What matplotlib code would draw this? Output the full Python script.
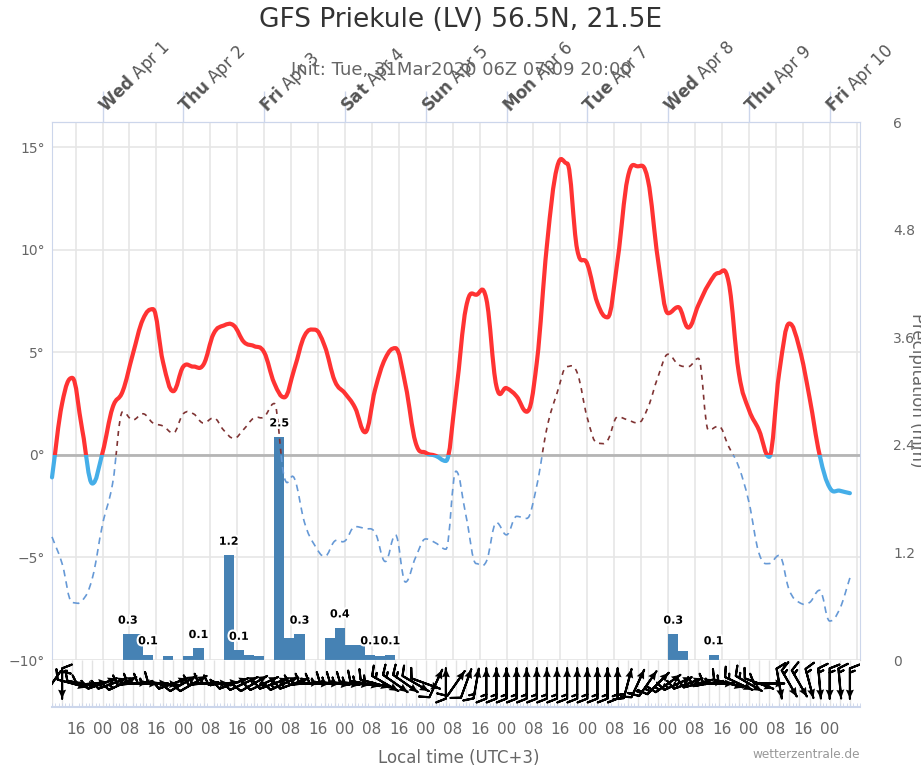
import numpy as np
import matplotlib
matplotlib.use("Agg")
import matplotlib.pyplot as plt
from matplotlib.path import Path
from matplotlib.patches import PathPatch, Rectangle
import matplotlib.patheffects as pe

# hours after Wed Apr 1 00:00 local time, 3-hourly from Mar 31 09:00
hours = np.arange(-15, 225, 3)

temp = [-1.1, 2.5, 3.75, 1.2, -1.4, 0.1, 2.3, 3.1, 4.9, 6.6,
        7.1, 4.5, 3.1, 4.3, 4.3, 4.4, 5.9, 6.3, 6.3, 5.5,
        5.3, 5.0, 3.5, 2.8, 4.2, 5.8, 6.1, 5.3, 3.6, 3.0,
        2.3, 1.1, 3.2, 4.7, 5.2, 3.4, 0.6, 0.1, -0.05, -0.3,
        3.0, 7.2, 7.8, 7.6, 3.35, 3.25, 2.85, 2.1, 4.5, 10.2,
        14.0, 14.2, 10.0, 9.3, 7.4, 6.7, 9.5, 13.5, 14.06, 13.4,
        9.5, 6.9, 7.2, 6.2, 7.3, 8.3, 8.86, 8.4, 4.0, 2.2,
        1.2, -0.1, 4.0, 6.4, 5.2, 2.8, 0.0, -1.6, -1.75, -1.87]

dewp = [-4.0, -5.3, -7.2, -7.1, -6.0, -3.4, -1.4, 2.1, 1.7, 2.0,
        1.55, 1.4, 1.06, 2.0, 2.0, 1.55, 1.8, 1.2, 0.8, 1.25,
        1.8, 1.85, 2.5, -1.1, -1.15, -3.3, -4.4, -4.95, -4.2, -4.2,
        -3.5, -3.6, -3.8, -5.2, -3.9, -6.2, -5.0, -4.1, -4.3, -4.6,
        -0.8, -3.0, -5.3, -5.2, -3.3, -3.9, -3.0, -3.1, -1.5, 1.3,
        3.0, 4.3, 4.0, 1.8, 0.57, 0.7, 1.85, 1.7, 1.55, 2.3,
        3.8, 4.9, 4.4, 4.3, 4.7, 1.2, 1.4, 0.4, -0.6, -2.3,
        -4.8, -5.3, -4.9, -6.6, -7.2, -7.2, -6.6, -8.1, -7.5, -6.0]

precip = [0, 0, 0, 0, 0, 0, 0, 0.29, 0.29, 0.06,
          0, 0.04, 0, 0.04, 0.13, 0, 0, 1.17, 0.11, 0.055,
          0.04, 0, 2.49, 0.24, 0.29, 0, 0, 0.24, 0.36, 0.17,
          0.17, 0.06, 0.04, 0.06, 0, 0, 0, 0, 0, 0,
          0, 0, 0, 0, 0, 0, 0, 0, 0, 0,
          0, 0, 0, 0, 0, 0, 0, 0, 0, 0,
          0, 0.29, 0.1, 0, 0, 0.06, 0, 0, 0, 0,
          0, 0, 0, 0, 0, 0, 0, 0, 0, 0]
labeled = [7, 9, 14, 17, 18, 22, 24, 28, 31, 33, 61, 65]

wind_dir = [35, 0, 285, 280, 265, 250, 250, 245, 265, 270,
            270, 275, 250, 240, 240, 265, 270, 265, 250, 245,
            240, 245, 250, 245, 250, 265, 270, 270, 275, 275,
            275, 280, 285, 300, 305, 305, 300, 290, 205, 180,
            215, 200, 190, 180, 180, 180, 180, 180, 180, 180,
            180, 180, 180, 180, 180, 180, 180, 195, 205, 215,
            225, 235, 245, 250, 255, 260, 270, 285, 295, 300,
            290, 270, 350, 330, 330, 345, 355, 0, 355, 0]
wind_spd = [12, 14, 10, 10, 12, 12, 14, 14, 14, 14,
            14, 12, 12, 12, 12, 14, 14, 14, 12, 12,
            12, 12, 14, 14, 14, 14, 14, 14, 14, 14,
            15, 15, 15, 15, 15, 15, 12, 10, 10, 10,
            12, 12, 14, 15, 15, 15, 15, 15, 15, 15,
            15, 15, 15, 15, 15, 15, 15, 15, 15, 15,
            15, 15, 15, 15, 15, 15, 15, 15, 15, 15,
            12, 12, 12, 14, 14, 15, 15, 15, 15, 15]

day_hours = np.arange(0, 217, 24)
weekdays = ["Wed", "Thu", "Fri", "Sat", "Sun", "Mon", "Tue", "Wed", "Thu", "Fri"]
dates = ["Apr 1", "Apr 2", "Apr 3", "Apr 4", "Apr 5", "Apr 6", "Apr 7", "Apr 8", "Apr 9", "Apr 10"]


def smooth_path(x, y):
    # spline through the points, flat at local extremes (like the web chart)
    x = np.asarray(x, float)
    y = np.asarray(y, float)
    n = len(x)
    m = np.zeros(n)
    for i in range(n):
        a, b = max(i - 1, 0), min(i + 1, n - 1)
        m[i] = (y[b] - y[a]) / (x[b] - x[a])
        if 0 < i < n - 1 and (y[i] - y[a]) * (y[i] - y[b]) > 0:
            m[i] = 0
    verts = [(x[0], y[0])]
    codes = [Path.MOVETO]
    for i in range(n - 1):
        h = 0.4 * (x[i + 1] - x[i])
        verts += [(x[i] + h, y[i] + m[i] * h), (x[i + 1] - h, y[i + 1] - m[i + 1] * h),
                  (x[i + 1], y[i + 1])]
        codes += [Path.CURVE4] * 3
    return Path(verts, codes)


fig = plt.figure(figsize=(9.21, 7.68), dpi=100)
W, H = 921, 768
ax = fig.add_axes([52 / W, 1 - 660 / H, 808 / W, 538 / H])
axw = fig.add_axes([52 / W, 1 - 707 / H, 808 / W, 47 / H])
ax2 = ax.twinx()

ax.set_xlim(-15, 225)
ax.set_ylim(-10, 16.22)
ax2.set_ylim(0, 6)
axw.set_xlim(-15, 225)
axw.set_ylim(0, 1)

# grid
yt = [-10, -5, 0, 5, 10, 15]
ax.set_yticks(yt, labels=[f"{v}°".replace("-", "\u2212") for v in yt])
ax.set_xticks(np.arange(-8, 225, 8))
ax.grid(True, color="#e6e6e6", lw=1.2, zorder=0)
ax.set_axisbelow(True)
ax.tick_params(axis="x", length=0, labelbottom=False)
ax.tick_params(axis="y", length=0, pad=5, labelsize=10, labelcolor="#666666")
ax.axhline(0, color="#b5b5b5", lw=2, zorder=1.5)
for s in ["top", "right", "left"]:
    ax.spines[s].set_color("#ccd6eb")
ax.spines["bottom"].set_color("#d0d0d0")

ax2.set_yticks([0, 1.2, 2.4, 3.6, 4.8, 6], labels=["0", "1.2", "2.4", "3.6", "4.8", "6"])
ax2.tick_params(axis="y", length=0, pad=24, labelsize=10, labelcolor="#666666")
for s in ax2.spines.values():
    s.set_visible(False)

# precipitation bars (right scale)
ax.bar(hours, precip, width=3, align="edge", color="#4682b4", linewidth=0,
       transform=ax2.transData, zorder=2)
for i in labeled:
    ax.annotate(f"{precip[i]:.1f}", xy=(hours[i] + 1.5, precip[i]), xycoords=ax2.transData,
                xytext=(0, 6), textcoords="offset points", ha="center", va="bottom",
                fontsize=8, fontweight="bold", color="black", zorder=6,
                path_effects=[pe.withStroke(linewidth=3, foreground="white")])

# dew point
dpath = smooth_path(hours, dewp)
d1 = PathPatch(dpath, fill=False, ec="#7f3333", lw=1.2, linestyle=(0, (3, 3)), zorder=3)
d2 = PathPatch(dpath, fill=False, ec="#6699d6", lw=1.2, linestyle=(0, (4, 3)), zorder=3)
ax.add_patch(d1)
ax.add_patch(d2)
d1.set_clip_path(Rectangle((-100, 0), 500, 100, transform=ax.transData))
d2.set_clip_path(Rectangle((-100, -100), 500, 100, transform=ax.transData))

# temperature
tpath = smooth_path(hours, temp)
t1 = PathPatch(tpath, fill=False, ec="#ff3333", lw=3, zorder=4, joinstyle="round", capstyle="round")
t2 = PathPatch(tpath, fill=False, ec="#45aee8", lw=3, zorder=4, joinstyle="round", capstyle="round")
ax.add_patch(t1)
ax.add_patch(t2)
t1.set_clip_path(Rectangle((-100, 0), 500, 100, transform=ax.transData))
t2.set_clip_path(Rectangle((-100, -100), 500, 100, transform=ax.transData))

# top day axis
sec = ax.secondary_xaxis("top")
sec.set_xticks(day_hours, labels=[""] * len(day_hours))
sec.tick_params(length=22, color="#ccd6eb", width=1)
sec.spines["top"].set_color("#ccd6eb")
for d, wd, dt in zip(day_hours, weekdays, dates):
    ax.annotate(rf"$\mathbf{{{wd}}}$ {dt}", xy=(d, 1), xycoords=("data", "axes fraction"),
                xytext=(2, 7), textcoords="offset points", rotation=45,
                rotation_mode="anchor", ha="left", va="baseline",
                fontsize=12, color="#555555", annotation_clip=False)

# wind strip
rad = np.deg2rad(wind_dir)
spd = np.array(wind_spd, dtype=float)
u = -spd * np.sin(rad)
v = -spd * np.cos(rad)
yw = np.full(len(hours), 0.5)
axw.vlines(hours, 0, 1, color="#e3e3e3", lw=1, zorder=0)
axw.barbs(hours, yw, u, v, length=6.6, pivot="middle", lw=1.5, color="black",
          sizes=dict(height=0.32, spacing=0.14), zorder=3)
axw.quiver(hours, yw, u / spd, v / spd, pivot="middle", angles="uv",
           scale_units="inches", scale=1 / 0.30, units="inches", width=0.016,
           headwidth=5, headlength=5.5, headaxislength=5, color="black", zorder=3)
ticks = np.arange(-8, 217, 8)
axw.set_xticks(ticks, labels=[f"{t % 24:02d}" for t in ticks])
axw.set_xticks(np.arange(-15, 226, 1), minor=True)
axw.tick_params(axis="x", which="major", length=0, pad=11, labelsize=11, labelcolor="#666666")
axw.tick_params(axis="x", which="minor", length=3, direction="in", color="#ccd6eb")
axw.set_yticks([])
for s in ["top", "left", "right"]:
    axw.spines[s].set_visible(False)
axw.spines["bottom"].set_color("#ccd6eb")
axw.spines["bottom"].set_linewidth(1.5)

# texts
fig.text(460 / W, 1 - 20 / H, "GFS Priekule (LV) 56.5N, 21.5E", ha="center", va="center",
         fontsize=19, color="#333333")
fig.text(461 / W, 1 - 70 / H, "Init: Tue, 31Mar2020 06Z 07:09 20:00", ha="center", va="center",
         fontsize=13, color="#666666")
fig.text(459 / W, 1 - 758 / H, "Local time (UTC+3)", ha="center", va="center",
         fontsize=12, color="#666666")
fig.text(860 / W, 1 - 755 / H, "wetterzentrale.de", ha="right", va="center",
         fontsize=8.7, color="#999999")
fig.text(908 / W, 1 - 390 / H, "Precipitation (mm)", rotation=270, ha="left", va="center",
         fontsize=12, color="#666666")

fig.savefig("out.png", dpi=100)
